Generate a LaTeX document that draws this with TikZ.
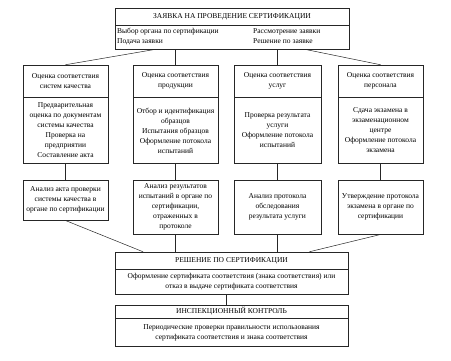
\documentclass[tikz,border=0pt]{standalone}
\usepackage{fontspec}
\setmainfont{Liberation Serif}
\begin{document}
\begin{tikzpicture}[x=1pt,y=-1pt,
  every node/.style={font=\fontsize{7.5}{10}\selectfont},
  box/.style={draw=black!85, line width=0.5pt, align=center, inner sep=0pt},
  conn/.style={draw=black!85, line width=0.5pt},
  txt/.style={align=left, inner sep=0pt}]
\useasboundingbox (0,0) rectangle (451,361);
% top box
\node[box, minimum width=234pt, minimum height=17pt] (zh) at (232,16.5) {ЗАЯВКА НА ПРОВЕДЕНИЕ СЕРТИФИКАЦИИ};
\node[box, minimum width=234pt, minimum height=24pt, anchor=north] (zb) at (zh.south) {};
\node[txt, anchor=west] (zl) at (117,36.5) {Выбор органа по сертификации\\Подача заявки};
\node[txt, anchor=west] (zr) at (253,36.5) {Рассмотрение заявки\\Решение по заявке};
% column headers
\node[box, minimum width=85pt, minimum height=32pt] (c1h) at (65.5,81) {Оценка соответствия\\систем качества};
\node[box, minimum width=85pt, minimum height=32pt] (c2h) at (175.5,81) {Оценка соответствия\\продукции};
\node[box, minimum width=87pt, minimum height=32pt] (c3h) at (277.5,81) {Оценка соответствия\\услуг};
\node[box, minimum width=85pt, minimum height=32pt] (c4h) at (380.5,81) {Оценка соответствия\\персонала};
% column bodies
\node[box, minimum width=85pt, minimum height=66pt, anchor=north] (c1b) at (c1h.south) {Предварительная\\оценка по документам\\системы качества\\Проверка на\\предприятии\\Составление акта};
\node[box, minimum width=85pt, minimum height=66pt, anchor=north] (c2b) at (c2h.south) {Отбор и идентификация\\образцов\\Испытания образцов\\Оформление потокола\\испытаний};
\node[box, minimum width=87pt, minimum height=66pt, anchor=north] (c3b) at (c3h.south) {Проверка результата\\услуги\\Оформление потокола\\испытаний};
\node[box, minimum width=85pt, minimum height=66pt, anchor=north] (c4b) at (c4h.south) {Сдача экзамена в\\экзаменационном\\центре\\Оформление потокола\\экзамена};
% lower boxes
\node[box, minimum width=85pt, minimum height=40pt, anchor=north] (l1) at (65.5,180) {Анализ акта проверки\\системы качества в\\органе по сертификации};
\node[box, minimum width=85pt, minimum height=54pt, anchor=north] (l2) at (175.5,180) {Анализ результатов\\испытаний в органе по\\сертификации,\\отраженных в\\протоколе};
\node[box, minimum width=87pt, minimum height=54pt, anchor=north] (l3) at (277.5,180) {Анализ протокола\\обследования\\результата услуги};
\node[box, minimum width=85pt, minimum height=54pt, anchor=north] (l4) at (380.5,180) {Утверждение протокола\\экзамена в органе по\\сертификации};
% decision
\node[box, minimum width=233pt, minimum height=17pt] (dh) at (231.5,260.5) {РЕШЕНИЕ ПО СЕРТИФИКАЦИИ};
\node[box, minimum width=233pt, minimum height=25pt, anchor=north] (db) at (dh.south) {Оформление сертификата соответствия (знака соответствия) или\\отказ в выдаче сертификата соответствия};
% inspection
\node[box, minimum width=233pt, minimum height=13pt] (ih) at (231.5,311.5) {ИНСПЕКЦИОННЫЙ КОНТРОЛЬ};
\node[box, minimum width=233pt, minimum height=28pt, anchor=north] (ib) at (ih.south) {Периодические проверки правильности использования\\сертификата соответствия и знака соответствия};
% connectors
\draw[conn] ([xshift=-79pt]zb.south) -- (c1h.north);
\draw[conn] (zb.south -| c2h.north) -- (c2h.north);
\draw[conn] (zb.south -| c3h.north) -- (c3h.north);
\draw[conn] ([xshift=75pt]zb.south) -- (c4h.north);
\foreach \i in {1,2,3,4} {\draw[conn] (c\i b.south) -- (l\i.north);}
\draw[conn] (l1.south) -- ([xshift=-88.5pt]dh.north);
\draw[conn] (l2.south) -- (l2.south |- dh.north);
\draw[conn] (l3.south) -- (l3.south |- dh.north);
\draw[conn] (l4.south) -- ([xshift=78pt]dh.north);
\draw[conn] ([xshift=-5.5pt]db.south) -- ([xshift=-5.5pt]ih.north);
\end{tikzpicture}
\end{document}
